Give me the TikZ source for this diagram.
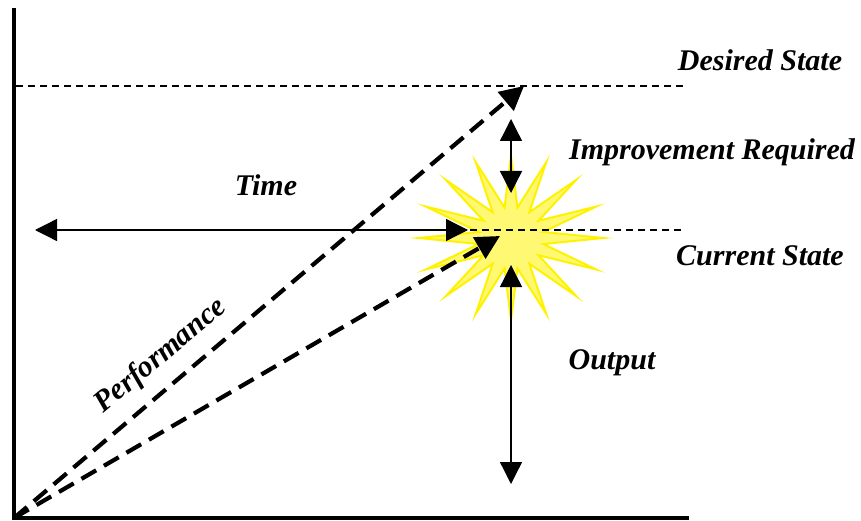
\documentclass[tikz,border=0pt]{standalone}
\usepackage{fontspec}
\setmainfont{Liberation Serif}
\usetikzlibrary{arrows.meta}

\tikzset{
  axisline/.style={line width=4.5pt},
  levelline/.style={line width=1.3pt, dash pattern=on 7pt off 5pt},
  perfline/.style={line width=4.2pt, dash pattern=on 17pt off 9pt, -{Triangle[length=24pt,width=24pt]}},
  measure/.style={line width=1.3pt, {Triangle[length=22pt,width=22pt]}-{Triangle[length=22pt,width=22pt]}},
  label/.style={font=\fontsize{30}{34}\selectfont\bfseries\itshape}
}

\begin{document}
\begin{tikzpicture}[x=1pt, y=-1pt]
	\useasboundingbox (0,0) rectangle (861,521);
	% Points:
	\coordinate (origin) at (14,518);
	\coordinate (ytop) at (14,8);
	\coordinate (xend) at (689,518);
	\coordinate (desiredL) at (16,86);
	\coordinate (desiredR) at (685,86);
	\coordinate (currentL) at (470,230);
	\coordinate (currentR) at (685,230);
	\coordinate (timeL) at (35,230);
	\coordinate (timeR) at (468,230);
	\coordinate (goal) at (524,86);
	\coordinate (now) at (500,236);
	\coordinate (impTop) at (511,119);
	\coordinate (impBot) at (511,193);
	\coordinate (outTop) at (511,265);
	\coordinate (outBot) at (511,484);
	% Star:
	\begin{scope}[shift={(511,238)}]
		\filldraw[fill=yellow!55, draw=yellow, line width=2pt, line join=miter]
			(0:92 and 82) \foreach \i in {1,...,31} {
				-- ({\i*11.25}:{mod(\i,2)==0 ? 92 : 33} and {mod(\i,2)==0 ? 82 : 31})
			} -- cycle;
	\end{scope}
	% Levels:
	\draw[levelline] (desiredL) -- (desiredR);
	\draw[levelline] (currentL) -- (currentR);
	% Performance lines:
	\draw[perfline] (origin) -- (goal);
	\draw[perfline] (origin) -- (now);
	% Arrows:
	\draw[measure] (timeL) -- (timeR);
	\draw[measure] (impTop) -- (impBot);
	\draw[measure] (outTop) -- (outBot);
	% Axes:
	\draw[axisline] (ytop) -- (origin) -- (xend);
	% Labels:
	\node[label] (desired) at (760,60) {Desired State};
	\node[label] (improve) at (712,152) {Improvement Required};
	\node[label] (time) at (266,185) {Time};
	\node[label] (current) at (760,256) {Current State};
	\node[label] (output) at (612,363) {Output};
	\node[label, rotate=40] (perf) at (161,356) {Performance};
\end{tikzpicture}
\end{document}
